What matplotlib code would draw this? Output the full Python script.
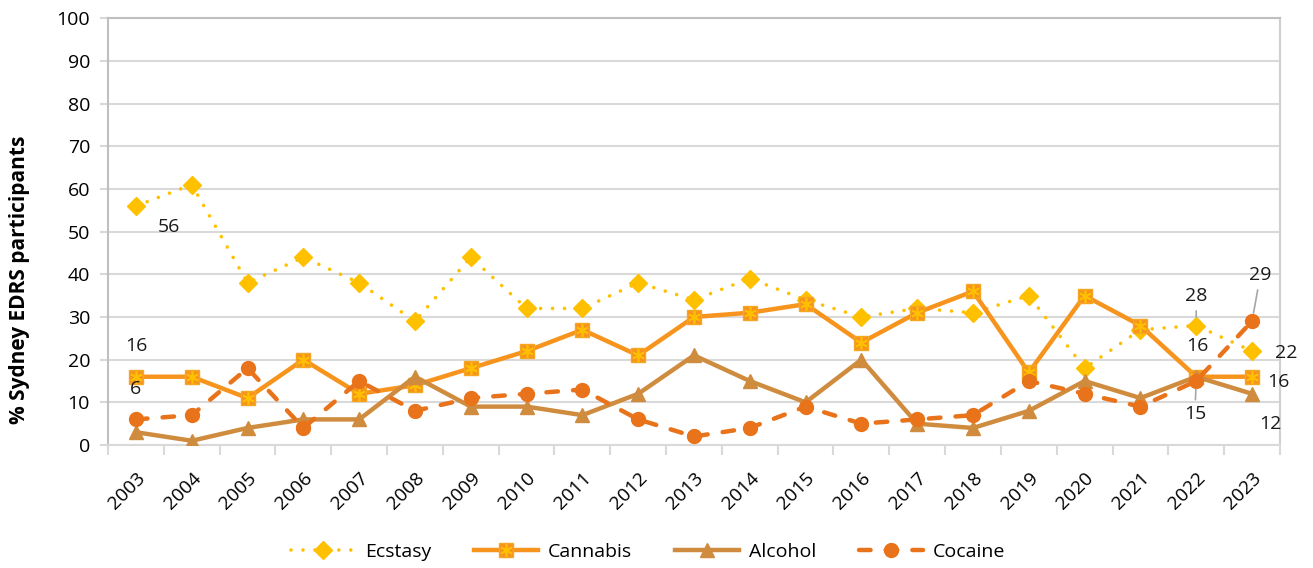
import matplotlib
matplotlib.use("Agg")
import matplotlib.pyplot as plt
from matplotlib.legend_handler import HandlerTuple

plt.rcParams['font.family'] = ['Open Sans', 'DejaVu Sans']

years = [str(y) for y in range(2003, 2024)]
ecstasy = [56, 61, 38, 44, 38, 29, 44, 32, 32, 38, 34, 39, 34, 30, 32, 31, 35, 18, 27, 28, 22]
cannabis = [16, 16, 11, 20, 12, 14, 18, 22, 27, 21, 30, 31, 33, 24, 31, 36, 17, 35, 28, 16, 16]
alcohol = [3, 1, 4, 6, 6, 16, 9, 9, 7, 12, 21, 15, 10, 20, 5, 4, 8, 15, 11, 16, 12]
cocaine = [6, 7, 18, 4, 15, 8, 11, 12, 13, 6, 2, 4, 9, 5, 6, 7, 15, 12, 9, 15, 29]
yticks = list(range(0, 101, 10))

c_ecs = '#FFC000'
c_can = '#F7941D'
c_alc = '#D08C3E'
c_coc = '#E8731A'

fig = plt.figure(figsize=(13.13, 5.68), dpi=100)
ax = fig.add_axes([0.0823, 0.2165, 0.8925, 0.7515])
x = list(range(len(years)))

l_ecs, = ax.plot(x, ecstasy, color=c_ecs, lw=2.6, linestyle=(0, (0.01, 3.3)),
                 dash_capstyle='round', marker='D', markersize=9, zorder=3)
l_can, = ax.plot(x, cannabis, color=c_can, lw=3.2, marker='s', markersize=10,
                 markerfacecolor=c_can, markeredgecolor='#F5A623', zorder=4)
l_can2, = ax.plot(x, cannabis, linestyle='none', marker=(6, 2, 0), markersize=9,
                  markeredgecolor=c_ecs, markeredgewidth=1.2, zorder=4.1)
l_alc, = ax.plot(x, alcohol, color=c_alc, lw=3.2, marker='^', markersize=10,
                 solid_joinstyle='miter', zorder=5)
l_coc, = ax.plot(x, cocaine, color=c_coc, lw=3.2, linestyle=(0, (2.6, 3.4)),
                 dash_capstyle='round', marker='o', markersize=10, zorder=6)

ax.set_xlim(-0.5, len(years) - 0.5)
ax.set_ylim(0, 100)
ax.set_yticks(yticks)
ax.set_yticklabels([str(t) for t in yticks], fontsize=14)
ax.set_xticks(x)
ax.set_xticklabels(years, rotation=45, ha='right', rotation_mode='anchor', fontsize=13.8)
ax.set_xticks([i - 0.5 for i in range(len(years) + 1)], minor=True)
ax.tick_params(axis='x', which='major', length=0, pad=17)
ax.tick_params(axis='x', which='minor', length=7, color='#D9D9D9', width=1.5)
ax.tick_params(axis='y', length=6, color='#D9D9D9', width=1.5, pad=7)
ax.grid(axis='y', color='#D9D9D9', lw=1.5, zorder=0)
ax.set_axisbelow(True)
ax.spines['left'].set_color('#BFBFBF')
ax.spines['left'].set_linewidth(1.5)
ax.spines['bottom'].set_color('#D9D9D9')
ax.spines['bottom'].set_linewidth(1.5)
ax.spines['right'].set_color('#D0D0D0')
ax.spines['right'].set_linewidth(1.5)
ax.spines['top'].set_color('#BFBFBF')
ax.spines['top'].set_linewidth(1.5)

ax.set_ylabel('% Sydney EDRS participants', fontsize=15, fontweight='bold')
ax.yaxis.set_label_coords(-0.067, 0.386)

def lab(xi, yi, text, dx, dy, leader=False):
    props = dict(arrowstyle='-', color='#A6A6A6', lw=1.2, shrinkA=2, shrinkB=6) if leader else None
    ax.annotate(text, xy=(xi, yi), xytext=(dx, dy), textcoords='offset points',
                ha='center', va='center', fontsize=14, color='#1A1A1A',
                arrowprops=props, zorder=10)

lab(0, ecstasy[0], '56', 24, -15)
lab(0, cannabis[0], '16', 0, 22)
lab(0, cocaine[0], '6', 0, 22)
lab(19, ecstasy[19], '28', 0, 21, leader=True)
lab(19, cannabis[19], '16', 1, 22)
lab(19, cocaine[19], '15', -1, -24, leader=True)
lab(20, cocaine[20], '29', 6, 33, leader=True)
lab(20, ecstasy[20], '22', 25, -1)
lab(20, cannabis[20], '16', 19, -4)
lab(20, alcohol[20], '12', 13, -22)

leg = fig.legend([l_ecs, (l_can, l_can2), l_alc, l_coc],
                 ['Ecstasy', 'Cannabis', 'Alcohol', 'Cocaine'],
                 handler_map={tuple: HandlerTuple(ndivide=1)},
                 loc='center', bbox_to_anchor=(0.4935, 0.028), ncol=4, frameon=False,
                 fontsize=14, handlelength=3.3, columnspacing=2.2, handletextpad=0.5)

fig.savefig('out.png', dpi=100)
